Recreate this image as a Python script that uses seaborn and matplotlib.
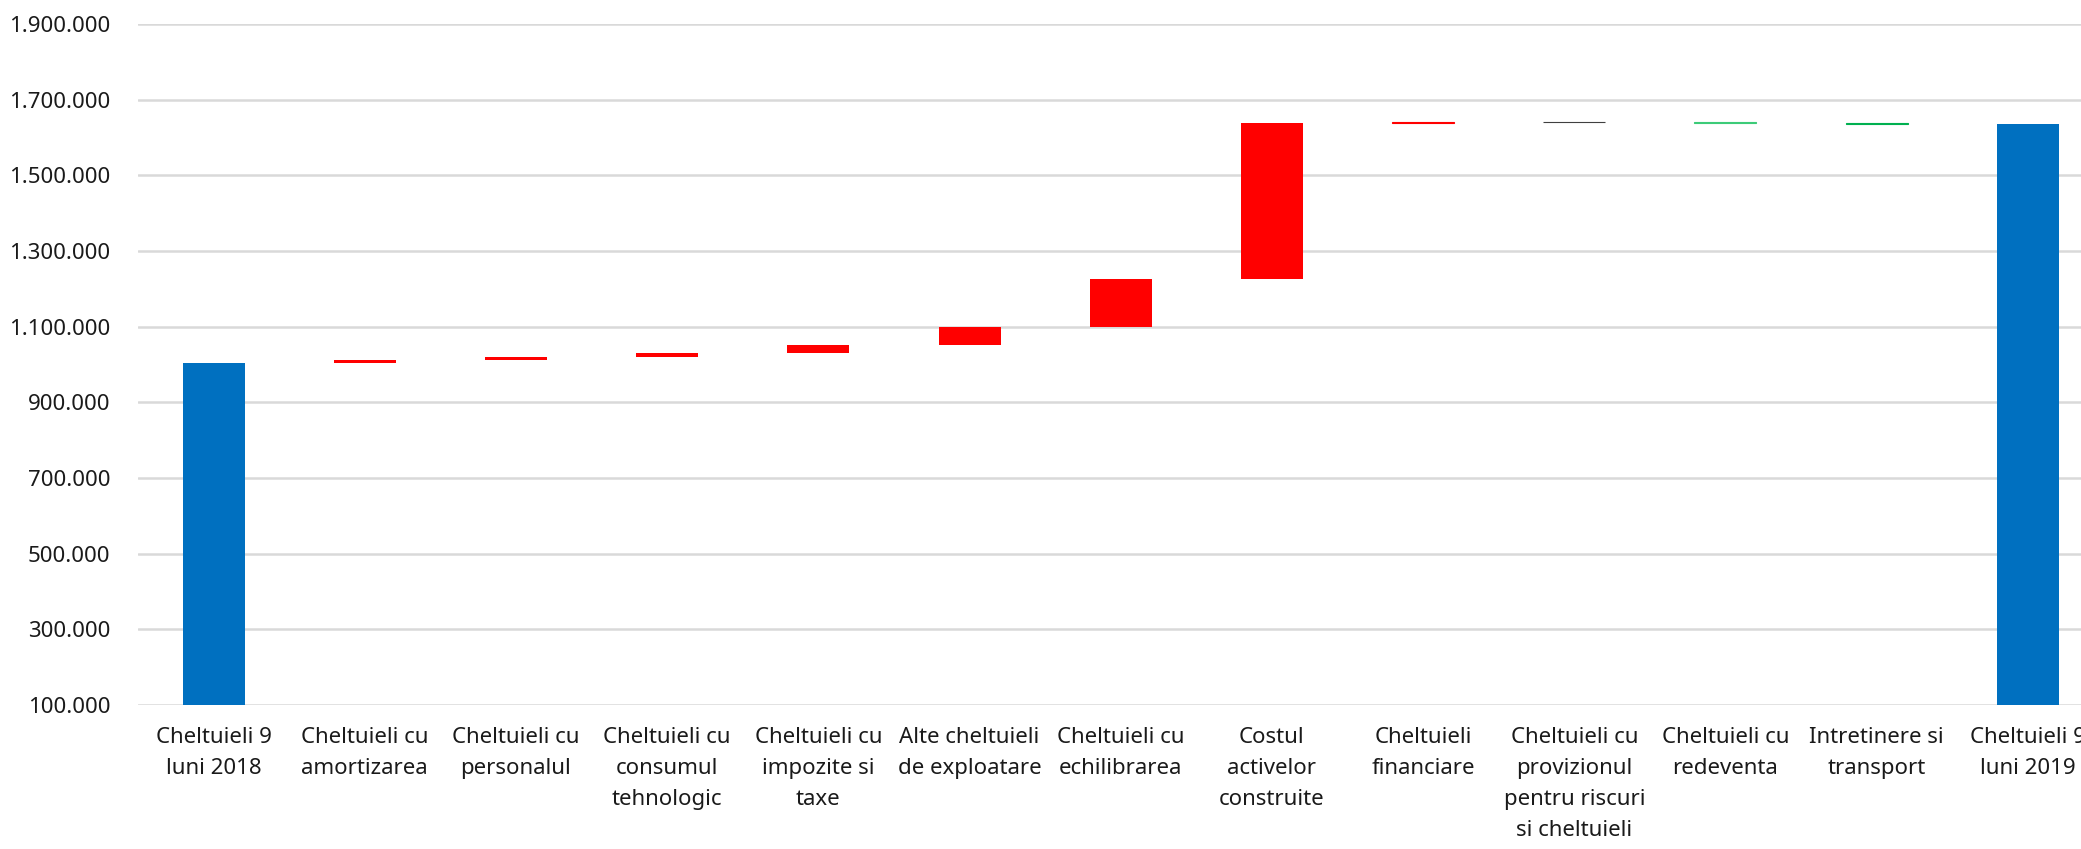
import numpy as np
import pandas as pd
import matplotlib
matplotlib.use("Agg")
import matplotlib.pyplot as plt
from matplotlib.ticker import FuncFormatter, FixedLocator
import seaborn as sns

# Waterfall: expenses 9 months 2018 -> 9 months 2019
categories = [
    "Cheltuieli 9\nluni 2018",
    "Cheltuieli cu\namortizarea",
    "Cheltuieli cu\npersonalul",
    "Cheltuieli cu\nconsumul\ntehnologic",
    "Cheltuieli cu\nimpozite si\ntaxe",
    "Alte cheltuieli\nde exploatare",
    "Cheltuieli cu\nechilibrarea",
    "Costul\nactivelor\nconstruite",
    "Cheltuieli\nfinanciare",
    "Cheltuieli cu\nprovizionul\npentru riscuri\nsi cheltuieli",
    "Cheltuieli cu\nredeventa",
    "Intretinere si\ntransport",
    "Cheltuieli 9\nluni 2019",
]
start_total = 1003000
changes = [8000, 8000, 10500, 21000, 47500, 129000, 412500, 1500, -500, -1500, -3000]
end_total = 1636000
axis_floor = 100000
y_ticks = [100000, 300000, 500000, 700000, 900000, 1100000, 1300000, 1500000, 1700000, 1900000]

# Build bar segments (base and top) from the running total
lows, highs = [axis_floor], [start_total]
running = start_total
for c in changes:
    new = running + c
    lows.append(min(running, new))
    highs.append(max(running, new))
    running = new
lows.append(axis_floor)
highs.append(end_total)

df = pd.DataFrame({
    "cat": categories,
    "height": np.array(highs) - np.array(lows),
    "base": lows,
})

colors = ["#0070C0"] + ["#FF0000"] * 8 + ["#404040", "#3CCB78", "#00B050", "#0070C0"]

sns.set_theme(style="white")
plt.rcParams["font.family"] = ["Noto Sans", "DejaVu Sans"]

fig = plt.figure(figsize=(20.81, 8.49), dpi=100)
ax = fig.add_axes([0.0663, 0.1696, 0.9445, 0.8021])

sns.barplot(data=df, x="cat", y="height", order=categories, bottom=df["base"].values,
            width=0.41, ax=ax, errorbar=None, color="#0070C0", zorder=3)

for patch, col, h in zip(ax.patches, colors, df["height"]):
    patch.set_facecolor(col)
    patch.set_edgecolor(col)
    patch.set_linewidth(0.8 if h < 5000 else 0)

ax.set_ylim(axis_floor, 1900000)
ax.set_xlim(-0.5, len(categories) - 0.5)
ax.yaxis.set_major_locator(FixedLocator(y_ticks))
ax.yaxis.set_major_formatter(FuncFormatter(lambda v, p: f"{int(v):,}".replace(",", ".")))
ax.grid(axis="y", color="#D9D9D9", linewidth=1.8, zorder=0)
ax.set_axisbelow(True)
for s in ax.spines.values():
    s.set_visible(False)

ax.set_xlabel("")
ax.set_ylabel("")
ax.tick_params(axis="y", length=0, pad=20, labelsize=16, labelcolor="#1A1A1A")
ax.tick_params(axis="x", length=0, pad=16, labelsize=16, labelcolor="#1A1A1A")
for lbl in ax.get_xticklabels():
    lbl.set_linespacing(1.63)
    lbl.set_horizontalalignment("center")

fig.savefig("out.png", dpi=100)
